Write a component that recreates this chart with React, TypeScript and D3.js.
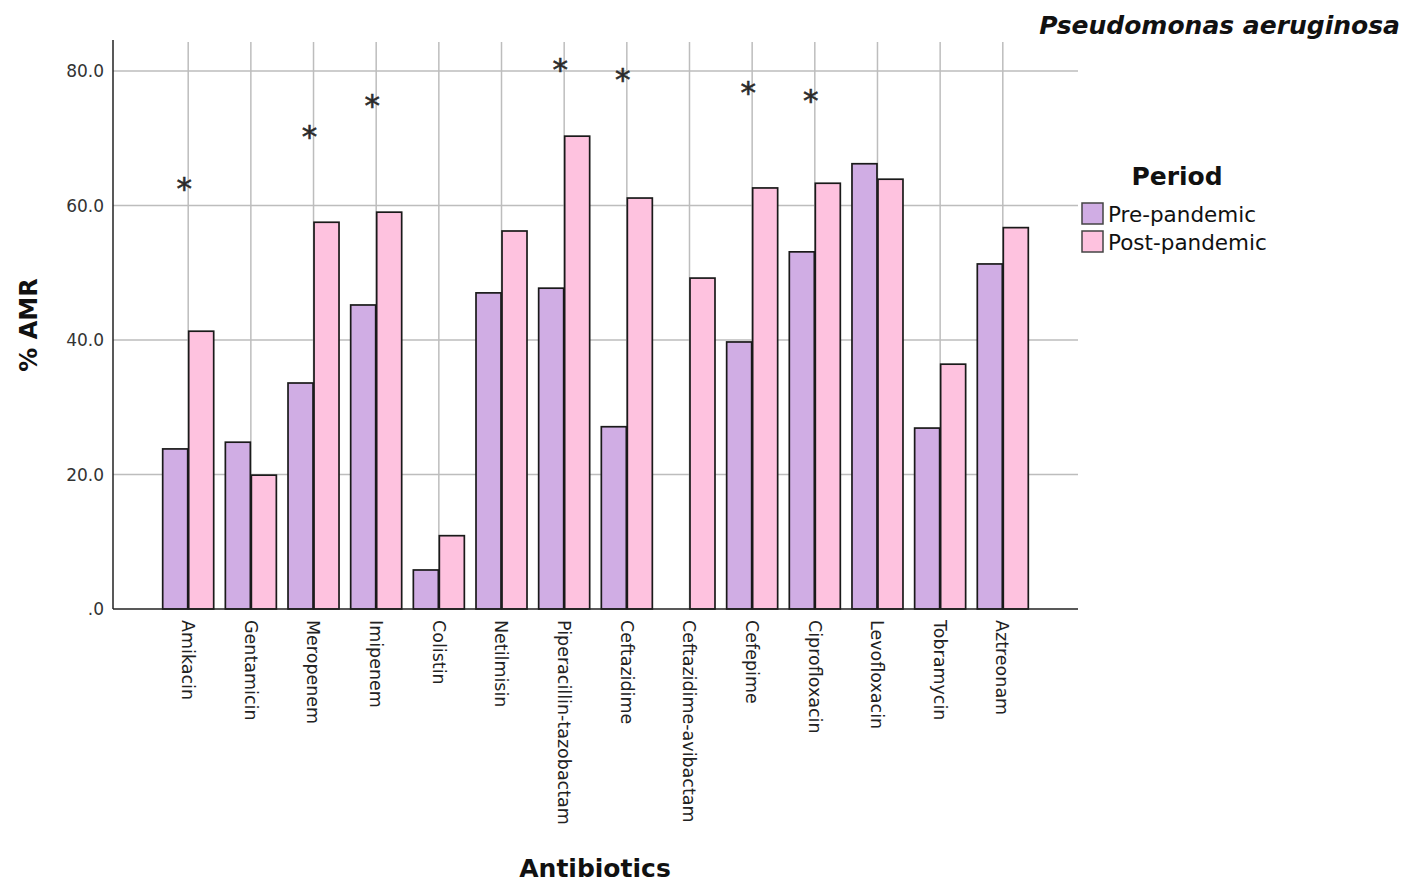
import React, { useEffect, useRef } from "react"
import * as d3 from "d3"

// AMR rates for Pseudomonas aeruginosa
const antibiotics = [
  "Amikacin", "Gentamicin", "Meropenem", "Imipenem", "Colistin", "Netilmisin",
  "Piperacillin-tazobactam", "Ceftazidime", "Ceftazidime-avibactam", "Cefepime",
  "Ciprofloxacin", "Levofloxacin", "Tobramycin", "Aztreonam",
]
const prePandemic = [23.8, 24.8, 33.6, 45.2, 5.8, 47.0, 47.7, 27.1, null, 39.7, 53.1, 66.2, 26.9, 51.3]
const postPandemic = [41.3, 19.9, 57.5, 59.0, 10.9, 56.2, 70.3, 61.1, 49.2, 62.6, 63.3, 63.9, 36.4, 56.7]
// significance markers (value where the asterisk sits)
const starAt = [63.2, null, 70.9, 75.5, null, null, 80.9, 79.4, null, 77.5, 76.3, null, null, null]
const periods = ["Pre-pandemic", "Post-pandemic"]
const yTicks = [0, 20, 40, 60, 80]

const colors = ["#d0ade4", "#fec2df"]
const FONT = "'DejaVu Sans', sans-serif"

export default function App() {
  const ref = useRef(null)
  useEffect(() => {
    const width = 1412, height = 890
    const left = 113, right = 1078, top = 42, bottom = 609

    const svg = d3.select(ref.current).attr("width", width).attr("height", height)
    svg.selectAll("*").remove()

    const x = d3.scalePoint().domain(antibiotics).range([left, right]).padding(1.2)
    const y = d3.scaleLinear().domain([0, 84.3]).range([bottom, top])
    const barW = 25

    // grid
    svg.append("g")
      .selectAll("line.h")
      .data(yTicks.slice(1))
      .enter()
      .append("line")
      .attr("x1", left).attr("x2", right)
      .attr("y1", d => y(d)).attr("y2", d => y(d))
      .attr("stroke", "#bdbdbd").attr("stroke-width", 1.5)

    svg.append("g")
      .selectAll("line.v")
      .data(antibiotics)
      .enter()
      .append("line")
      .attr("x1", d => x(d)).attr("x2", d => x(d))
      .attr("y1", top).attr("y2", bottom)
      .attr("stroke", "#bdbdbd").attr("stroke-width", 1.5)

    // bars
    const series = [prePandemic, postPandemic]
    series.forEach((vals, si) => {
      svg.append("g")
        .selectAll("rect")
        .data(antibiotics.map((a, i) => ({ a, v: vals[i] })).filter(d => d.v != null))
        .enter()
        .append("rect")
        .attr("x", d => x(d.a) + (si === 0 ? -barW - 0.5 : 0.5))
        .attr("y", d => y(d.v))
        .attr("width", barW)
        .attr("height", d => y(0) - y(d.v))
        .attr("fill", colors[si])
        .attr("stroke", "#1a1a1a")
        .attr("stroke-width", 1.7)
    })

    // asterisks
    svg.append("g")
      .selectAll("text")
      .data(antibiotics.map((a, i) => ({ a, v: starAt[i] })).filter(d => d.v != null))
      .enter()
      .append("text")
      .attr("x", d => x(d.a) - 4)
      .attr("y", d => y(d.v) + 15)
      .attr("text-anchor", "middle")
      .style("font-family", FONT)
      .style("font-size", "31px")
      .style("fill", "#2a2a2a")
      .style("stroke", "#2a2a2a")
      .style("stroke-width", 0.6)
      .text("*")

    // axes lines
    svg.append("line")
      .attr("x1", left).attr("x2", left).attr("y1", top - 2).attr("y2", bottom)
      .attr("stroke", "#222").attr("stroke-width", 1.5)
    svg.append("line")
      .attr("x1", left).attr("x2", right).attr("y1", bottom).attr("y2", bottom)
      .attr("stroke", "#222").attr("stroke-width", 1.5)

    // y tick labels
    svg.append("g")
      .selectAll("text")
      .data(yTicks)
      .enter()
      .append("text")
      .attr("x", 104)
      .attr("y", d => y(d))
      .attr("dy", "0.36em")
      .attr("text-anchor", "end")
      .style("font-family", FONT)
      .style("font-size", "17px")
      .style("fill", "#333")
      .text(d => d === 0 ? ".0" : d.toFixed(1))

    // x tick labels
    svg.append("g")
      .selectAll("text")
      .data(antibiotics)
      .enter()
      .append("text")
      .attr("transform", d => "translate(" + x(d) + "," + 620 + ") rotate(90)")
      .attr("dy", "0.36em")
      .attr("text-anchor", "start")
      .style("font-family", FONT)
      .style("font-size", "17.5px")
      .style("fill", "#222")
      .text(d => d)

    // axis titles
    svg.append("text")
      .attr("transform", "translate(37,325) rotate(-90)")
      .attr("text-anchor", "middle")
      .style("font-family", FONT)
      .style("font-size", "24px")
      .style("font-weight", "bold")
      .style("fill", "#111")
      .text("% AMR")

    svg.append("text")
      .attr("x", 595).attr("y", 877)
      .attr("text-anchor", "middle")
      .style("font-family", FONT)
      .style("font-size", "25px")
      .style("font-weight", "bold")
      .style("fill", "#111")
      .text("Antibiotics")

    svg.append("text")
      .attr("x", 1400).attr("y", 34)
      .attr("text-anchor", "end")
      .style("font-family", FONT)
      .style("font-size", "25px")
      .style("font-weight", "bold")
      .style("font-style", "italic")
      .style("fill", "#111")
      .text("Pseudomonas aeruginosa")

    // legend
    const lg = svg.append("g")
    lg.append("text")
      .attr("x", 1177).attr("y", 185)
      .attr("text-anchor", "middle")
      .style("font-family", FONT)
      .style("font-size", "25px")
      .style("font-weight", "bold")
      .style("fill", "#111")
      .text("Period")
    const item = lg.selectAll("g.item")
      .data(periods)
      .enter()
      .append("g")
      .attr("transform", (d, i) => "translate(1082," + (203 + i * 28) + ")")
    item.append("rect")
      .attr("width", 21).attr("height", 21)
      .attr("fill", (d, i) => colors[i])
      .attr("stroke", "#444").attr("stroke-width", 1.5)
    item.append("text")
      .attr("x", 26).attr("y", 11)
      .attr("dy", "0.36em")
      .style("font-family", FONT)
      .style("font-size", "21.5px")
      .style("fill", "#111")
      .text(d => d)
  }, [])

  return <svg ref={ref} style={{ display: "block", margin: "-8px 0 0 -8px" }}></svg>
}
